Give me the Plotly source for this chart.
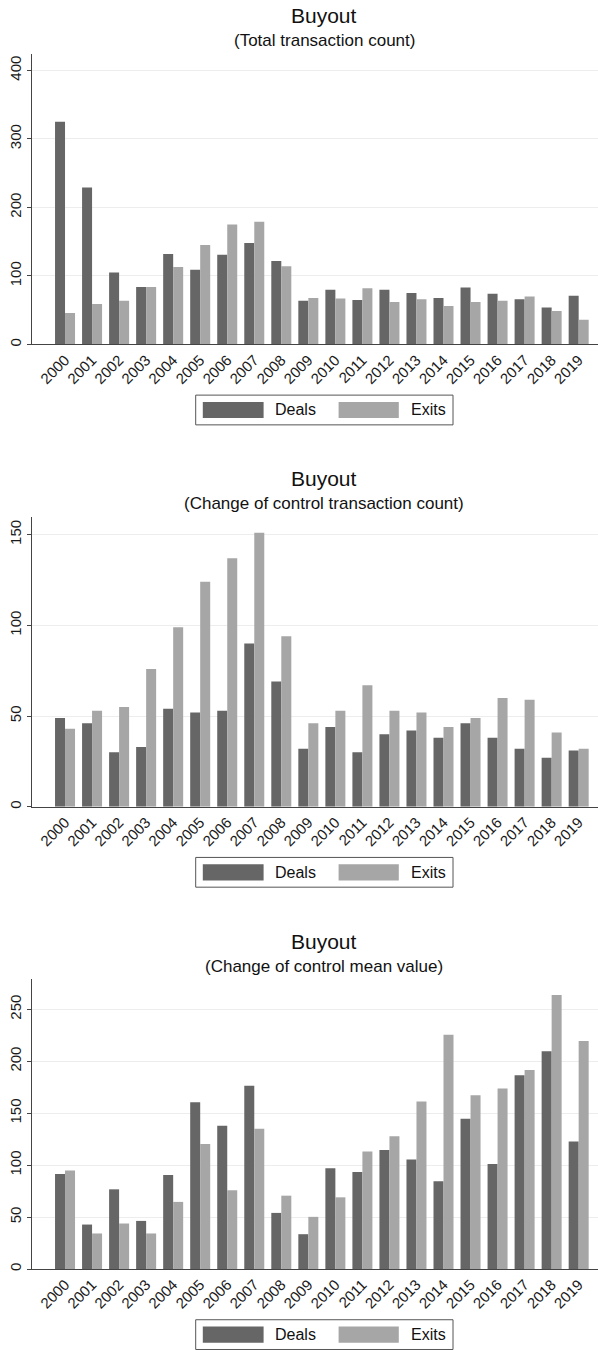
import plotly.graph_objects as go

years = [str(y) for y in range(2000, 2020)]

deals_total = [325, 229, 105, 84, 132, 109, 131, 148, 122, 64, 80, 65, 80, 75, 68, 83, 74, 66, 54, 71]
exits_total = [46, 59, 64, 84, 113, 145, 175, 179, 114, 68, 67, 82, 62, 66, 56, 62, 64, 70, 49, 36]

deals_coc = [49, 46, 30, 33, 54, 52, 53, 90, 69, 32, 44, 30, 40, 42, 38, 46, 38, 32, 27, 31]
exits_coc = [43, 53, 55, 76, 99, 124, 137, 151, 94, 46, 53, 67, 53, 52, 44, 49, 60, 59, 41, 32]

deals_mean = [91.5, 42.9, 76.8, 46.4, 90.6, 160.7, 138, 176.4, 54.1, 33.6, 97, 93.5, 114.6, 105.6, 84.5, 144.7, 101.2, 186.6, 209.7, 122.9]
exits_mean = [95, 34.3, 43.9, 34.3, 64.7, 120.4, 75.9, 135.1, 70.7, 50.3, 69.1, 113.3, 128, 161.3, 225.7, 167.4, 173.8, 191.7, 263.8, 219.6]

titles = ["Buyout", "Buyout", "Buyout"]
subtitles = ["(Total transaction count)", "(Change of control transaction count)", "(Change of control mean value)"]
series_names = ["Deals", "Exits"]
y_ranges = [424, 160, 279]
y_dticks = [100, 50, 50]

W, H = 598, 1350
DARK = "#666666"
LIGHT = "#a6a6a6"
FONT = "Liberation Sans, Arial, sans-serif"

def px(x):
    return x / W

def py(y):
    return 1 - y / H

# plot area pixel extents (top, bottom) per panel
panels = [(54, 345), (517.3, 808), (980.7, 1271)]
x_left = 32

data = [(deals_total, exits_total), (deals_coc, exits_coc), (deals_mean, exits_mean)]

fig = go.Figure()
layout = dict(
    width=W, height=H,
    margin=dict(l=0, r=0, t=0, b=0),
    paper_bgcolor="white", plot_bgcolor="white",
    barmode="group", bargap=0.26, bargroupgap=0,
    showlegend=False,
    font=dict(family=FONT, color="#1a1a1a", size=15),
)
shapes = []
annotations = []

for i, ((d, e), (top, bottom)) in enumerate(zip(data, panels)):
    sfx = "" if i == 0 else str(i + 1)
    xa, ya = "x" + sfx, "y" + sfx
    fig.add_trace(go.Bar(x=years, y=d, name=series_names[0], marker=dict(color=DARK, line=dict(width=0)),
                         xaxis=xa, yaxis=ya))
    fig.add_trace(go.Bar(x=years, y=e, name=series_names[1], marker=dict(color=LIGHT, line=dict(width=0)),
                         xaxis=xa, yaxis=ya))
    layout["xaxis" + sfx] = dict(
        domain=[px(x_left), 1], anchor=ya, type="category",
        range=[-1.222, 19.715], showline=True, linecolor="#444", linewidth=1,
        ticks="", tickangle=-45, tickfont=dict(size=15, color="#1a1a1a"),
        showgrid=False, zeroline=False, fixedrange=True,
    )
    layout["yaxis" + sfx] = dict(
        domain=[py(bottom), py(top)], anchor=xa,
        range=[0, y_ranges[i]], dtick=y_dticks[i], tick0=0,
        showline=True, linecolor="#444", linewidth=1,
        ticks="outside", ticklen=4, tickcolor="#444", tickangle=-90,
        tickfont=dict(size=15, color="#1a1a1a"),
        showgrid=True, gridcolor="#ededed", gridwidth=1, zeroline=False, fixedrange=True,
    )
    # titles
    annotations.append(dict(text=titles[i], x=px(324), y=py(top - 38), xref="paper", yref="paper",
                            showarrow=False, xanchor="center", yanchor="middle",
                            font=dict(size=21, color="#111", family=FONT)))
    annotations.append(dict(text=subtitles[i], x=px(324), y=py(top - 13), xref="paper", yref="paper",
                            showarrow=False, xanchor="center", yanchor="middle",
                            font=dict(size=17, color="#111", family=FONT)))
    # custom legend
    lt, lb = bottom + 50.7, bottom + 80.5
    shapes.append(dict(type="rect", xref="paper", yref="paper", x0=px(195.7), x1=px(453),
                       y0=py(lb), y1=py(lt), line=dict(color="#555", width=1), fillcolor="white", layer="above"))
    st, sb = bottom + 57.5, bottom + 73.7
    shapes.append(dict(type="rect", xref="paper", yref="paper", x0=px(202.8), x1=px(263.6),
                       y0=py(sb), y1=py(st), line=dict(width=0), fillcolor=DARK, layer="above"))
    shapes.append(dict(type="rect", xref="paper", yref="paper", x0=px(338.6), x1=px(398.8),
                       y0=py(sb), y1=py(st), line=dict(width=0), fillcolor=LIGHT, layer="above"))
    ly = bottom + 65.6
    annotations.append(dict(text=series_names[0], x=px(273), y=py(ly), xref="paper", yref="paper",
                            showarrow=False, xanchor="left", yanchor="middle",
                            font=dict(size=16, color="#111", family=FONT)))
    annotations.append(dict(text=series_names[1], x=px(408.5), y=py(ly), xref="paper", yref="paper",
                            showarrow=False, xanchor="left", yanchor="middle",
                            font=dict(size=16, color="#111", family=FONT)))

layout["shapes"] = shapes
layout["annotations"] = annotations
fig.update_layout(**layout)
fig.write_html("out.html")
